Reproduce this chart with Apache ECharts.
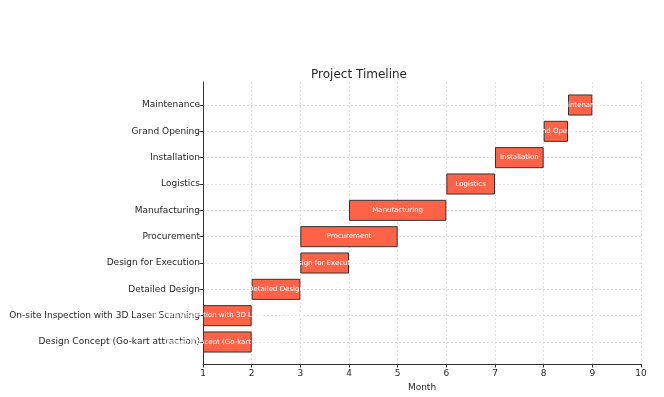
<!DOCTYPE html>
<html>
<head>
<meta charset="utf-8">
<title>Project Timeline</title>
<script src="https://cdn.jsdelivr.net/npm/echarts@6/dist/echarts.min.js"></script>
<style>
  html, body { margin: 0; padding: 0; background: #fff; }
  #chart { width: 664px; height: 397px; }
</style>
</head>
<body>
<div id="chart"></div>
<script>
  // 任务（自下而上）
  const tasks = [
    'Design Concept (Go-kart attraction)',
    'On-site Inspection with 3D Laser Scanning',
    'Detailed Design',
    'Design for Execution',
    'Procurement',
    'Manufacturing',
    'Logistics',
    'Installation',
    'Grand Opening',
    'Maintenance'
  ];
  // 开始月份
  const starts = [1, 1, 2, 3, 3, 4, 6, 7, 8, 8.5];
  // 持续时间（月）
  const durations = [1, 1, 1, 1, 2, 2, 1, 1, 0.5, 0.5];
  const monthTicks = [1, 10];

  const font = 'DejaVu Sans';
  const gridLine = { show: true, lineStyle: { color: '#d9d9d9', width: 0.8, type: [2, 2] } };

  const chart = echarts.init(document.getElementById('chart'));

  chart.setOption({
    animation: false,
    textStyle: { fontFamily: font },
    title: {
      text: 'Project Timeline',
      left: 354,
      top: 64,
      textAlign: 'center',
      textStyle: { fontFamily: font, fontSize: 12, fontWeight: 'normal', color: '#262626' }
    },
    grid: [
      // 外框（轴线、月份刻度）
      { left: 203, right: 23, top: 82, bottom: 33, outerBoundsMode: 'none', containLabel: false },
      // 任务条
      { left: 203, right: 23, top: 105, bottom: 55, outerBoundsMode: 'none', containLabel: false }
    ],
    xAxis: [
      {
        gridIndex: 0,
        type: 'value',
        min: monthTicks[0],
        max: monthTicks[1],
        interval: 1,
        name: 'Month',
        nameLocation: 'middle',
        nameGap: 13,
        nameTextStyle: { fontFamily: font, fontSize: 9, color: '#262626' },
        axisLine: { show: true, lineStyle: { color: '#333', width: 1 } },
        axisTick: { show: true, length: 3.5, lineStyle: { color: '#333' } },
        axisLabel: { fontFamily: font, fontSize: 9, color: '#262626', margin: 5 },
        splitLine: gridLine
      },
      {
        gridIndex: 1,
        type: 'value',
        min: monthTicks[0],
        max: monthTicks[1],
        show: false
      }
    ],
    yAxis: [
      {
        gridIndex: 0,
        type: 'value',
        min: 0,
        max: 1,
        axisLine: { show: true, lineStyle: { color: '#333', width: 1 } },
        axisTick: { show: false },
        axisLabel: { show: false },
        splitLine: { show: false }
      },
      {
        gridIndex: 1,
        type: 'category',
        data: tasks,
        boundaryGap: false,
        axisLine: { show: false },
        axisTick: { show: true, length: 3.5, lineStyle: { color: '#333' } },
        axisLabel: { fontFamily: font, fontSize: 9, color: '#262626', margin: 3 },
        splitLine: gridLine
      }
    ],
    series: [
      {
        type: 'bar',
        xAxisIndex: 1,
        yAxisIndex: 1,
        stack: 'gantt',
        silent: true,
        clip: false,
        barWidth: '80%',
        itemStyle: { color: 'transparent' },
        data: starts
      },
      {
        type: 'bar',
        xAxisIndex: 1,
        yAxisIndex: 1,
        stack: 'gantt',
        clip: false,
        barWidth: '80%',
        itemStyle: { color: '#ff6347', borderColor: '#333', borderWidth: 1 },
        label: {
          show: true,
          position: 'inside',
          color: '#fff',
          fontFamily: font,
          fontSize: 7,
          formatter: function(p) { return tasks[p.dataIndex]; }
        },
        data: durations
      }
    ]
  });
</script>
</body>
</html>
